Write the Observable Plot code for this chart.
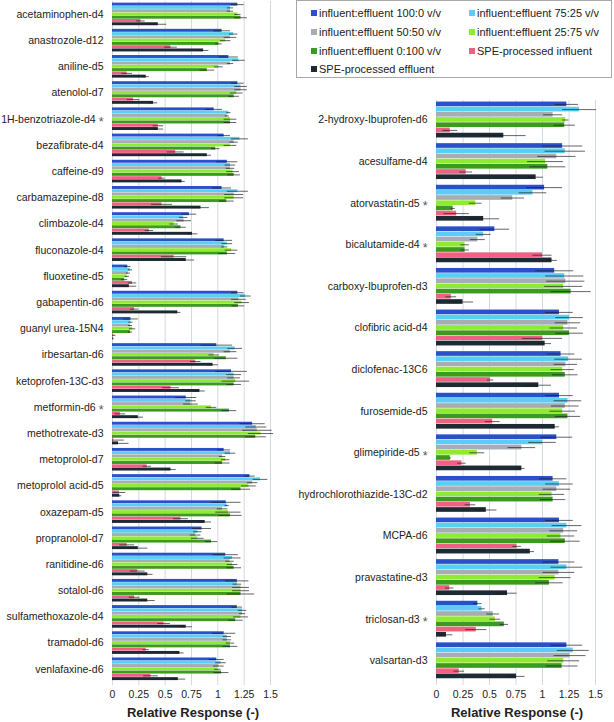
<!DOCTYPE html>
<html><head><meta charset="utf-8">
<script src="https://cdn.jsdelivr.net/npm/d3@7"></script>
<script src="https://cdn.jsdelivr.net/npm/@observablehq/plot@0.6"></script>
<style>
body{margin:0;background:#fff;font-family:"Liberation Sans",Arial,sans-serif;}
#wrap{position:relative;width:614px;height:722px;overflow:hidden;background:#fff}
#left{position:absolute;left:0;top:0}
#right{position:absolute;left:300px;top:0}
#legend{position:absolute;left:296px;top:0;width:316px;height:78px;border:1px solid #a8a8a8;box-sizing:border-box;background:#fff;font-size:11px;color:#222}
.li{position:absolute;white-space:nowrap;line-height:12px}
.sw{display:inline-block;width:6px;height:6px;margin-right:2px;vertical-align:1px}
.xt{position:absolute;font-weight:bold;font-size:13px;color:#222;white-space:nowrap;transform:translateX(-50%)}
</style></head>
<body>
<div id="wrap">
  <div id="left"></div>
  <div id="right"></div>
  <div id="legend"></div>
  <div class="xt" style="left:193px;top:705px">Relative Response (-)</div>
  <div class="xt" style="left:517px;top:705px">Relative Response (-)</div>
</div>
<script>
const series = ["influent:effluent 100:0 v/v","influent:effluent 75:25 v/v","influent:effluent 50:50 v/v","influent:effluent 25:75 v/v","influent:effluent 0:100 v/v","SPE-processed influent","SPE-processed effluent"];
const colors = ["#2a50cc","#5ccdf3","#a7adb4","#8eeb33","#3c9a20","#ef6082","#1e2a33"];
const xTicks = [0,0.25,0.5,0.75,1,1.25,1.5];

const compoundsLeft = ["acetaminophen-d4","anastrozole-d12","aniline-d5","atenolol-d7","1H-benzotriazole-d4 *","bezafibrate-d4","caffeine-d9","carbamazepine-d8","climbazole-d4","fluconazole-d4","fluoxetine-d5","gabapentin-d6","guanyl urea-15N4","irbesartan-d6","ketoprofen-13C-d3","metformin-d6 *","methotrexate-d3","metoprolol-d7","metoprolol acid-d5","oxazepam-d5","propranolol-d7","ranitidine-d6","sotalol-d6","sulfamethoxazole-d4","tramadol-d6","venlafaxine-d6"];
const valuesLeft = [
 [1.19,1.12,1.12,1.19,1.22,0.27,0.435],
 [1.04,1.15,1.12,1.075,1.01,0.555,0.865],
 [1.105,1.20,1.12,1.01,0.90,0.14,0.32],
 [1.19,1.22,1.22,1.18,1.155,0.20,0.39],
 [0.965,1.105,1.09,1.12,1.12,0.435,0.435],
 [1.06,1.21,1.155,1.12,0.98,0.60,0.90],
 [1.09,1.12,1.12,1.145,1.155,0.47,0.66],
 [1.04,1.19,1.155,1.155,1.085,0.47,0.84],
 [0.73,0.675,0.68,0.585,0.65,0.35,0.76],
 [1.06,1.09,1.065,1.13,1.09,0.585,0.70],
 [0.145,0.17,0.15,0.14,0.115,0.19,0.16],
 [1.19,1.265,1.20,1.23,1.195,0.21,0.62],
 [0.175,0.175,0.17,0.19,0.17,0.012,0.006],
 [0.99,1.165,1.12,0.965,1.08,0.79,0.955],
 [1.13,1.155,1.155,1.17,1.155,0.555,0.83],
 [0.70,0.745,0.745,0.94,1.11,0.075,0.245],
 [1.33,1.365,1.375,1.41,1.36,0.012,0.057],
 [1.06,1.12,1.045,1.075,1.045,0.33,0.555],
 [1.305,1.405,1.33,1.295,1.22,0.066,0.069],
 [1.08,1.09,1.045,1.10,1.12,0.65,0.88],
 [0.85,0.81,0.79,0.81,0.94,0.14,0.245],
 [1.075,1.14,1.115,1.14,1.155,0.24,0.335],
 [1.185,1.185,1.22,1.22,1.22,0.21,0.335],
 [1.185,1.235,1.235,1.22,1.17,0.49,0.70],
 [1.06,1.09,1.09,1.12,1.12,0.32,0.64],
 [0.99,1.03,1.01,1.00,1.035,0.365,0.625]
];
const errorsLeft = [
 [0.06,0.03,0.03,0.03,0.06,0.04,0.08],
 [0.08,0.04,0.06,0.05,0.03,0.06,0.05],
 [0.09,0.06,0.03,0.04,0.07,0.05,0.03],
 [0.06,0.06,0.06,0.06,0.05,0.06,0.04],
 [0.08,0.02,0.02,0.06,0.06,0.05,0.05],
 [0.06,0.08,0.04,0.06,0.04,0.08,0.04],
 [0.10,0.05,0.04,0.06,0.06,0.03,0.03],
 [0.09,0.10,0.09,0.09,0.07,0.10,0.08],
 [0.07,0.04,0.07,0.04,0.05,0.04,0.05],
 [0.08,0.05,0.03,0.06,0.08,0.12,0.08],
 [0.03,0.02,0.02,0.02,0.03,0.04,0.07],
 [0.06,0.05,0.07,0.07,0.06,0.04,0.03],
 [0.07,0.02,0.02,0.03,0.02,0.02,0.01],
 [0.15,0.07,0.06,0.05,0.11,0.05,0.05],
 [0.15,0.07,0.06,0.13,0.07,0.08,0.05],
 [0.10,0.05,0.07,0.05,0.07,0.05,0.05],
 [0.12,0.10,0.14,0.12,0.10,0.10,0.10],
 [0.06,0.05,0.03,0.04,0.07,0.04,0.05],
 [0.05,0.07,0.05,0.07,0.09,0.06,0.02],
 [0.14,0.02,0.05,0.12,0.11,0.07,0.06],
 [0.09,0.04,0.05,0.06,0.06,0.07,0.09],
 [0.12,0.08,0.04,0.05,0.07,0.07,0.05],
 [0.11,0.04,0.08,0.08,0.13,0.05,0.07],
 [0.05,0.04,0.03,0.07,0.07,0.06,0.06],
 [0.11,0.04,0.04,0.04,0.07,0.03,0.04],
 [0.07,0.05,0.05,0.03,0.07,0.07,0.07]
];

const compoundsRight = ["2-hydroxy-Ibuprofen-d6","acesulfame-d4","atorvastatin-d5 *","bicalutamide-d4 *","carboxy-Ibuprofen-d3","clofibric acid-d4","diclofenac-13C6","furosemide-d5","glimepiride-d5 *","hydrochlorothiazide-13C-d2","MCPA-d6","pravastatine-d3","triclosan-d3 *","valsartan-d3"];
const valuesRight = [
 [1.23,1.35,1.10,1.22,1.21,0.13,0.635],
 [1.19,1.215,1.135,1.03,1.05,0.28,0.94],
 [1.02,0.91,0.72,0.37,0.157,0.19,0.445],
 [0.55,0.445,0.39,0.27,0.27,1.00,1.09],
 [1.115,1.21,1.22,1.20,1.27,0.14,0.25],
 [1.16,1.255,1.24,1.20,1.255,1.00,1.025],
 [1.175,1.245,1.22,1.19,1.215,0.51,0.965],
 [1.16,1.24,1.215,1.19,1.24,0.53,1.12],
 [1.135,1.00,0.805,0.385,0.13,0.24,0.805],
 [1.10,1.16,1.135,1.09,1.10,0.32,0.47],
 [1.16,1.23,1.20,1.175,1.215,0.76,0.885],
 [1.155,1.23,1.155,1.12,1.065,0.125,0.67],
 [0.39,0.43,0.535,0.555,0.64,0.375,0.094],
 [1.23,1.29,1.26,1.20,1.185,0.215,0.755]
];
const errorsRight = [
 [0.11,0.16,0.09,0.03,0.10,0.07,0.21],
 [0.19,0.19,0.18,0.17,0.17,0.06,0.07],
 [0.17,0.13,0.11,0.06,0.02,0.12,0.15],
 [0.14,0.07,0.07,0.04,0.04,0.09,0.05],
 [0.18,0.18,0.18,0.18,0.19,0.05,0.10],
 [0.13,0.13,0.12,0.13,0.13,0.19,0.06],
 [0.13,0.13,0.11,0.11,0.12,0.03,0.12],
 [0.13,0.13,0.13,0.12,0.12,0.07,0.04],
 [0.15,0.13,0.13,0.07,0.01,0.04,0.03],
 [0.13,0.13,0.13,0.12,0.12,0.05,0.10],
 [0.13,0.14,0.13,0.13,0.14,0.04,0.04],
 [0.15,0.15,0.15,0.15,0.13,0.04,0.09],
 [0.04,0.03,0.06,0.05,0.04,0.10,0.06],
 [0.15,0.15,0.15,0.15,0.15,0.05,0.08]
];

function panel(compounds, values, errors, o) {
  const rows = [], domain = [];
  compounds.forEach((c, i) => {
    series.forEach((s, j) => {
      const key = c + "|" + j;
      domain.push(key);
      rows.push({key, series: s, value: values[i][j], err: errors[i][j]});
    });
    domain.push(c + "|gap");
  });
  const labelKeys = compounds.map(c => c + "|3");
  const svg = Plot.plot({
    width: o.width, height: 722,
    marginTop: o.marginTop, marginBottom: 37, marginLeft: o.marginLeft, marginRight: o.marginRight,
    style: {fontFamily: "Liberation Sans, Arial, sans-serif", fontSize: "10.5px", color: "#222", background: "transparent", overflow: "visible"},
    x: {domain: [0, 1.5]},
    y: {domain, paddingInner: 0.1, paddingOuter: o.paddingOuter, round: false, axis: null},
    color: {domain: series, range: colors},
    marks: [
      Plot.gridX(xTicks, {stroke: "#d3d9e0", strokeOpacity: 1, strokeWidth: 1}),
      Plot.barX(rows, {y: "key", x: "value", fill: "series"}),
      Plot.ruleY(rows, {y: "key", x1: d => Math.max(0, d.value - d.err), x2: d => d.value + d.err, stroke: "#1a1a1a", strokeWidth: 0.8, strokeOpacity: 0.85}),
      Plot.axisY(labelKeys, {tickSize: 0, tickPadding: 9, tickFormat: k => k.split("|")[0], fontSize: 10.5, label: null}),
      Plot.axisX(xTicks, {tickSize: 0, tickPadding: 5, tickFormat: d => String(d), fontSize: 10.5, label: null})
    ]
  });
  // lower the significance asterisk to mid-height, as in the reference
  svg.querySelectorAll("text").forEach(t => {
    const s = t.textContent;
    if (s.endsWith(" *")) {
      while (t.firstChild) t.removeChild(t.firstChild);
      t.append(document.createTextNode(s.slice(0, -1)));
      const ts = document.createElementNS("http://www.w3.org/2000/svg", "tspan");
      ts.setAttribute("dy", "0.3em");
      ts.setAttribute("font-size", "12.5px");
      ts.setAttribute("fill", "#555");
      ts.textContent = "*";
      t.append(ts);
    }
  });
  return svg;
}

document.getElementById("left").append(panel(compoundsLeft, valuesLeft, errorsLeft, {width: 290, marginTop: 1, marginLeft: 112, marginRight: 20, paddingOuter: 0.5}));
document.getElementById("right").append(panel(compoundsRight, valuesRight, errorsRight, {width: 314, marginTop: 100, marginLeft: 136, marginRight: 19, paddingOuter: 0.3}));

const leg = document.getElementById("legend");
const pos = [[14,6],[172,6],[14,25],[172,25],[14,44],[172,44],[14,62]];
series.forEach((s, i) => {
  const d = document.createElement("div");
  d.className = "li";
  d.style.left = pos[i][0] + "px";
  d.style.top = pos[i][1] + "px";
  const sw = document.createElement("span");
  sw.className = "sw";
  sw.style.background = colors[i];
  d.append(sw, document.createTextNode(s));
  leg.append(d);
});
</script>
</body></html>
